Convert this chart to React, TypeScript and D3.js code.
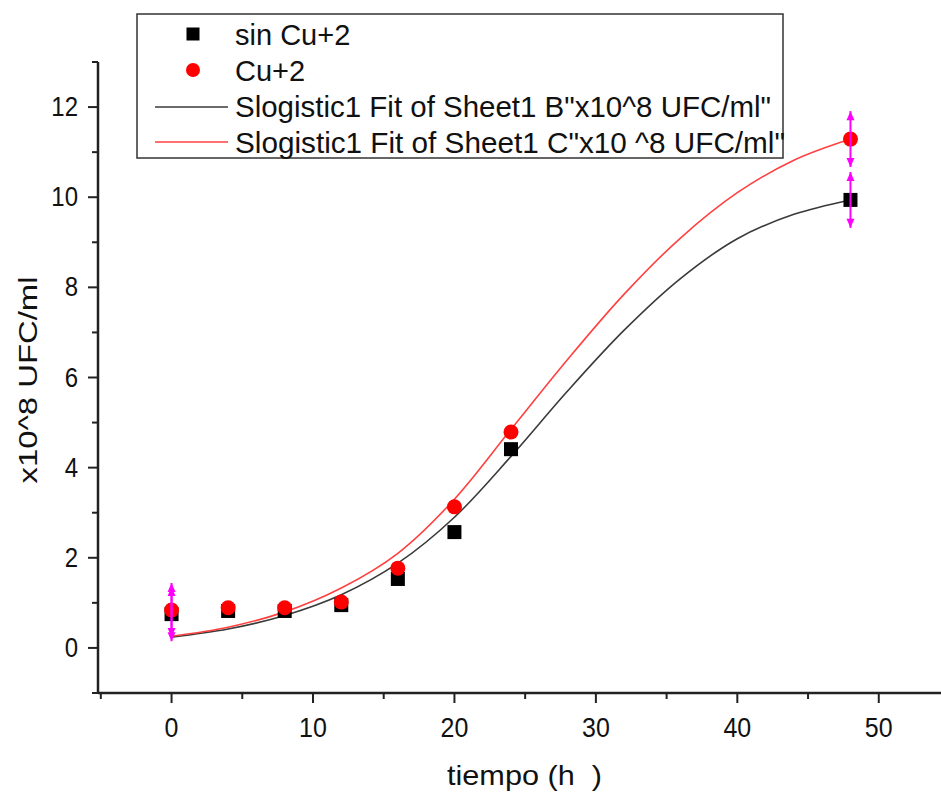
import React from "react";
import * as d3 from "d3";

// ---- data ----
const times = [0, 4, 8, 12, 16, 20, 24, 48];
const sinCu = [0.75, 0.82, 0.82, 0.95, 1.53, 2.57, 4.41, 9.94];
const cu = [0.84, 0.89, 0.89, 1.02, 1.77, 3.13, 4.79, 11.29];

// fitted curves
const fitT = [0, 4, 8, 12, 16, 20, 24, 28, 32, 36, 40, 44, 48];
const fitSin = [0.24, 0.42, 0.72, 1.18, 1.88, 2.9, 4.25, 5.7, 7.05, 8.2, 9.08, 9.62, 9.94];
const fitCu = [0.26, 0.46, 0.8, 1.33, 2.1, 3.3, 4.85, 6.4, 7.85, 9.1, 10.1, 10.82, 11.29];

// error bars
const errT = [0, 48];
const errIdx = [0, 7];
const errSin = [0.6, 0.62];
const errCu = [0.6, 0.62];

const xMajor = [0, 10, 20, 30, 40, 50];
const xMinor = [-5, 5, 15, 25, 35, 45];
const yMajor = [0, 2, 4, 6, 8, 10, 12];
const yMinor = [-1, 1, 3, 5, 7, 9, 11, 13];

const legendLabels = [
  "sin Cu+2",
  "Cu+2",
  'Slogistic1 Fit of Sheet1 B"x10^8 UFC/ml"',
  'Slogistic1 Fit of Sheet1 C"x10 ^8 UFC/ml"',
];

const W = 941;
const H = 793;
const FONT = "'Liberation Sans', Arial, sans-serif";
const AX = "#222";
const TXT = "#111";

export default function App() {
  const x = d3.scaleLinear().domain([-5.2, 54.4]).range([98, 941]);
  const y = d3.scaleLinear().domain([-1, 13]).range([693, 62]);
  const x0 = x.range()[0];
  const y0 = y.range()[0];

  const line = d3
    .line<number>()
    .x((_, i) => x(fitT[i]))
    .y((d) => y(d))
    .curve(d3.curveCatmullRom.alpha(0.5));

  const arrow = (cx: number, tipY: number, dir: number) => {
    const h = 9 * dir;
    return `M${cx},${tipY} L${cx - 4},${tipY + h} L${cx + 4},${tipY + h} Z`;
  };

  const errBars: JSX.Element[] = [];
  errT.forEach((t, k) => {
    const i = errIdx[k];
    [
      [sinCu[i], errSin[k]],
      [cu[i], errCu[k]],
    ].forEach(([v, e], j) => {
      const cx = x(t);
      const top = y(v + e);
      const bot = y(v - e);
      errBars.push(
        <g key={`e${k}-${j}`} fill="#ff00ff" stroke="none">
          <line x1={cx} x2={cx} y1={top} y2={bot} stroke="#ff00ff" strokeWidth={2} />
          <path d={arrow(cx, top, 1)} />
          <path d={arrow(cx, bot, -1)} />
        </g>
      );
    });
  });

  const lgX = 137;
  const lgY = 14;
  const rowY = [34, 70, 107, 142];
  const symX = 193;
  const lgLen = [0, 0, 536, 550];

  return (
    <svg width={W} height={H} style={{ display: "block", position: "absolute", left: 0, top: 0 }} fontFamily={FONT}>
      <rect width={W} height={H} fill="white" />
      {/* axes */}
      <line x1={x0} x2={W} y1={y0} y2={y0} stroke={AX} strokeWidth={2.5} />
      <line x1={x0} x2={x0} y1={y(13)} y2={y0} stroke={AX} strokeWidth={2.5} />
      {xMajor.map((t) => (
        <g key={`xm${t}`}>
          <line x1={x(t)} x2={x(t)} y1={y0} y2={y0 + 10} stroke={AX} strokeWidth={2} />
          <text
            transform={`translate(${x(t)},${y0 + 44}) scale(1,1.12)`}
            fontSize={25}
            textAnchor="middle"
            fill={TXT}
          >
            {t}
          </text>
        </g>
      ))}
      {xMinor.map((t) => (
        <line key={`xn${t}`} x1={x(t)} x2={x(t)} y1={y0} y2={y0 + 6} stroke={AX} strokeWidth={2} />
      ))}
      {yMajor.map((v) => (
        <g key={`ym${v}`}>
          <line x1={x0 - 10} x2={x0} y1={y(v)} y2={y(v)} stroke={AX} strokeWidth={2} />
          <text
            transform={`translate(${x0 - 20},${y(v) + 9}) scale(1,1.15)`}
            fontSize={24}
            textAnchor="end"
            fill={TXT}
          >
            {v}
          </text>
        </g>
      ))}
      {yMinor.map((v) => (
        <line key={`yn${v}`} x1={x0 - 6} x2={x0} y1={y(v)} y2={y(v)} stroke={AX} strokeWidth={2} />
      ))}
      <text
        x={524.5}
        y={785}
        fontSize={28}
        textAnchor="middle"
        fill={TXT}
        textLength={155}
        lengthAdjust="spacingAndGlyphs"
        style={{ whiteSpace: "pre" }}
      >
        {"tiempo (h  )"}
      </text>
      <text
        transform={`translate(37,380) rotate(-90)`}
        fontSize={25}
        textAnchor="middle"
        fill={TXT}
        textLength={207}
        lengthAdjust="spacingAndGlyphs"
      >
        x10^8 UFC/ml
      </text>

      {/* fits */}
      <path d={line(fitSin) ?? ""} fill="none" stroke="#3a3a3a" strokeWidth={1.6} />
      <path d={line(fitCu) ?? ""} fill="none" stroke="#ff4040" strokeWidth={1.6} />

      {/* points */}
      {times.map((t, i) => (
        <rect key={`s${i}`} x={x(t) - 7} y={y(sinCu[i]) - 7} width={14} height={14} fill="#000" />
      ))}
      {times.map((t, i) => (
        <circle key={`c${i}`} cx={x(t)} cy={y(cu[i])} r={7.5} fill="#ff0000" />
      ))}
      {errBars}

      {/* legend */}
      <rect x={lgX} y={lgY} width={646} height={144} fill="white" stroke="#333" strokeWidth={1.5} />
      <rect x={symX - 6.5} y={rowY[0] - 6.5} width={13} height={13} fill="#000" />
      <circle cx={symX} cy={rowY[1]} r={7} fill="#ff0000" />
      <line x1={155} x2={228} y1={rowY[2]} y2={rowY[2]} stroke="#3a3a3a" strokeWidth={1.6} />
      <line x1={155} x2={228} y1={rowY[3]} y2={rowY[3]} stroke="#ff4040" strokeWidth={1.6} />
      {legendLabels.map((l, i) =>
        lgLen[i] > 0 ? (
          <text
            key={l}
            x={235}
            y={[45, 81, 117, 153][i]}
            fontSize={29}
            fill={TXT}
            textLength={lgLen[i]}
            lengthAdjust="spacingAndGlyphs"
          >
            {l}
          </text>
        ) : (
          <text key={l} x={235} y={[45, 81, 117, 153][i]} fontSize={29} fill={TXT}>
            {l}
          </text>
        )
      )}
    </svg>
  );
}
